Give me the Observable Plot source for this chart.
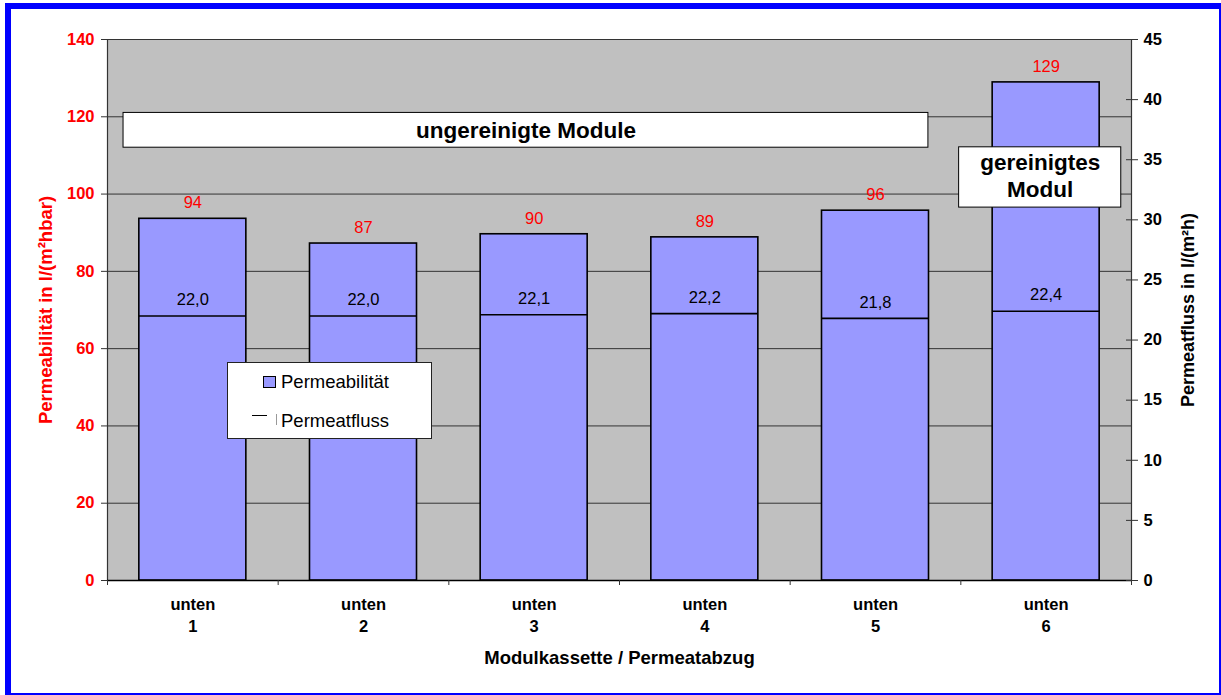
<!DOCTYPE html>
<html>
<head>
<meta charset="utf-8">
<script src="https://cdn.jsdelivr.net/npm/d3@7"></script>
<script src="https://cdn.jsdelivr.net/npm/@observablehq/plot@0.6"></script>
<style>
  html, body { margin: 0; padding: 0; background: white; }
  #wrap { position: relative; width: 1221px; height: 695px; overflow: hidden; font-family: "Liberation Sans", Arial, sans-serif; }
  #border { position: absolute; left: 5px; top: 3px; width: 1216px; height: 692px; box-sizing: border-box;
    border-top: 6px solid #0000ff; border-left: 6px solid #0000ff; border-right: 2px solid #0000ff; border-bottom: 2px solid #0000ff; pointer-events: none; }
  #legend { position: absolute; left: 227px; top: 362px; width: 205px; height: 77px; box-sizing: border-box;
    background: white; border: 1px solid #222; font-size: 18.5px; line-height: 20px; color: #000; }
  .sw { position: absolute; width: 11px; height: 10px; background: #9999ff; border: 1px solid #000; }
  .ln { position: absolute; width: 15px; height: 0; border-top: 1px solid #000; }
  .tk { position: absolute; width: 0; height: 11px; border-left: 1px solid #999; }
  .lt { position: absolute; white-space: nowrap; }
</style>
</head>
<body>
<div id="wrap">
  <div id="chart"></div>
  <div id="legend">
    <div class="sw" style="left:35px; top:13px;"></div>
    <div class="lt" style="left:53px; top:9px;">Permeabilität</div>
    <div class="ln" style="left:24px; top:52px;"></div>
    <div class="tk" style="left:48px; top:51px;"></div>
    <div class="lt" style="left:53px; top:48px;">Permeatfluss</div>
  </div>
  <div id="border"></div>
</div>
<script>
const categories = ["unten\n1", "unten\n2", "unten\n3", "unten\n4", "unten\n5", "unten\n6"];
const permeability = [93.6, 87.2, 89.6, 88.8, 95.7, 128.9];
const permeateFlux = [22.0, 22.0, 22.1, 22.2, 21.8, 22.4];
const leftTicks = [0, 20, 40, 60, 80, 100, 120, 140];
const rightTicks = [0, 5, 10, 15, 20, 25, 30, 35, 40, 45];
const boxLabels = ["ungereinigte Module", "gereinigtes\nModul"];

const k = 140 / 45; // right axis -> left axis units
const half = 0.3135;
const rows = categories.map((c, i) => ({i, cat: c, perm: permeability[i], flux: permeateFlux[i]}));
const fmt = v => v.toFixed(1).replace(".", ",");
const font = "'Liberation Sans', Arial, sans-serif";

const chart = Plot.plot({
  width: 1221,
  height: 695,
  marginLeft: 107,
  marginRight: 90,
  marginTop: 39,
  marginBottom: 115,
  style: {background: "white", fontFamily: font},
  x: {type: "linear", domain: [0, 6], axis: null},
  y: {domain: [0, 140], axis: null},
  marks: [
    Plot.frame({fill: "#c0c0c0", stroke: "#808080"}),
    Plot.ruleY(leftTicks.slice(1), {stroke: "#333", strokeWidth: 1}),
    Plot.rectY(rows, {x1: d => d.i + 0.5 - half, x2: d => d.i + 0.5 + half, y: "perm", fill: "#9999ff", stroke: "#000", strokeWidth: 1.6}),
    Plot.ruleY(rows, {y: d => d.flux * k, x1: d => d.i + 0.5 - half, x2: d => d.i + 0.5 + half, stroke: "#000", strokeWidth: 1.6}),
    Plot.text(rows, {x: d => d.i + 0.5, y: "perm", text: d => String(Math.round(d.perm)), dy: -16, fill: "#ff0000", fontSize: 16.5}),
    Plot.text(rows, {x: d => d.i + 0.5, y: d => d.flux * k, text: d => fmt(d.flux), dy: -16, fill: "#000", fontSize: 16.5}),
    // annotation boxes
    Plot.rect([boxLabels[0]], {x1: 0.094, x2: 4.81, y1: 112, y2: 121, fill: "white", stroke: "#000", strokeWidth: 1}),
    Plot.text([boxLabels[0]], {x: (0.094 + 4.81) / 2, y: 116.4, text: d => d, fontSize: 22.5, fontWeight: "bold", fill: "#000"}),
    Plot.rect([boxLabels[1]], {x1: 4.99, x2: 5.94, y1: 96.5, y2: 112.1, fill: "white", stroke: "#000", strokeWidth: 1}),
    Plot.text([boxLabels[1]], {x: (4.99 + 5.94) / 2, y: 104.9, text: d => d, fontSize: 22.5, fontWeight: "bold", fill: "#000", lineHeight: 1.16}),
    // axis lines
    Plot.ruleX([0], {stroke: "#333", strokeWidth: 1.2}),
    Plot.ruleX([6], {stroke: "#333", strokeWidth: 1.2}),
    Plot.ruleY([0], {stroke: "#000", strokeWidth: 1.5}),
    // left axis
    Plot.axisY(leftTicks, {anchor: "left", tickSize: 6, tickPadding: 7, stroke: "#333", fill: "#ff0000", fontSize: 16.5, fontWeight: "bold", label: null}),
    // right axis
    Plot.ruleY(rightTicks.map(v => v * k), {x1: 6, x2: 6, insetLeft: -5, stroke: "#333"}),
    Plot.axisY(rightTicks.map(v => v * k), {anchor: "right", tickSize: 6, tickPadding: 6, tickFormat: v => String(Math.round(v / k)), stroke: "#333", fill: "#000", fontSize: 16.5, fontWeight: "bold", label: null}),
    // bottom axis
    Plot.axisX([0, 1, 2, 3, 4, 5, 6], {tickSize: 5, tickFormat: () => "", stroke: "#333", label: null}),
    Plot.axisX(rows.map(d => d.i + 0.5), {tickSize: 0, tickPadding: 14, tickFormat: v => categories[Math.floor(v)], fill: "#000", fontSize: 16.5, fontWeight: "bold", lineHeight: 1.33, label: null}),
    // axis titles
    Plot.text(["Permeabilität in l/(m²hbar)"], {frameAnchor: "left", textAnchor: "middle", dx: -61, rotate: -90, text: d => d, fill: "#ff0000", fontSize: 18.5, fontWeight: "bold"}),
    Plot.text(["Permeatfluss in l/(m²h)"], {frameAnchor: "right", textAnchor: "middle", dx: 57, rotate: -90, text: d => d, fill: "#000", fontSize: 18, fontWeight: "bold"}),
    Plot.text(["Modulkassette / Permeatabzug"], {frameAnchor: "bottom", dy: 83, text: d => d, fill: "#000", fontSize: 18.5, fontWeight: "bold"})
  ]
});
document.getElementById("chart").appendChild(chart);
</script>
</body>
</html>
